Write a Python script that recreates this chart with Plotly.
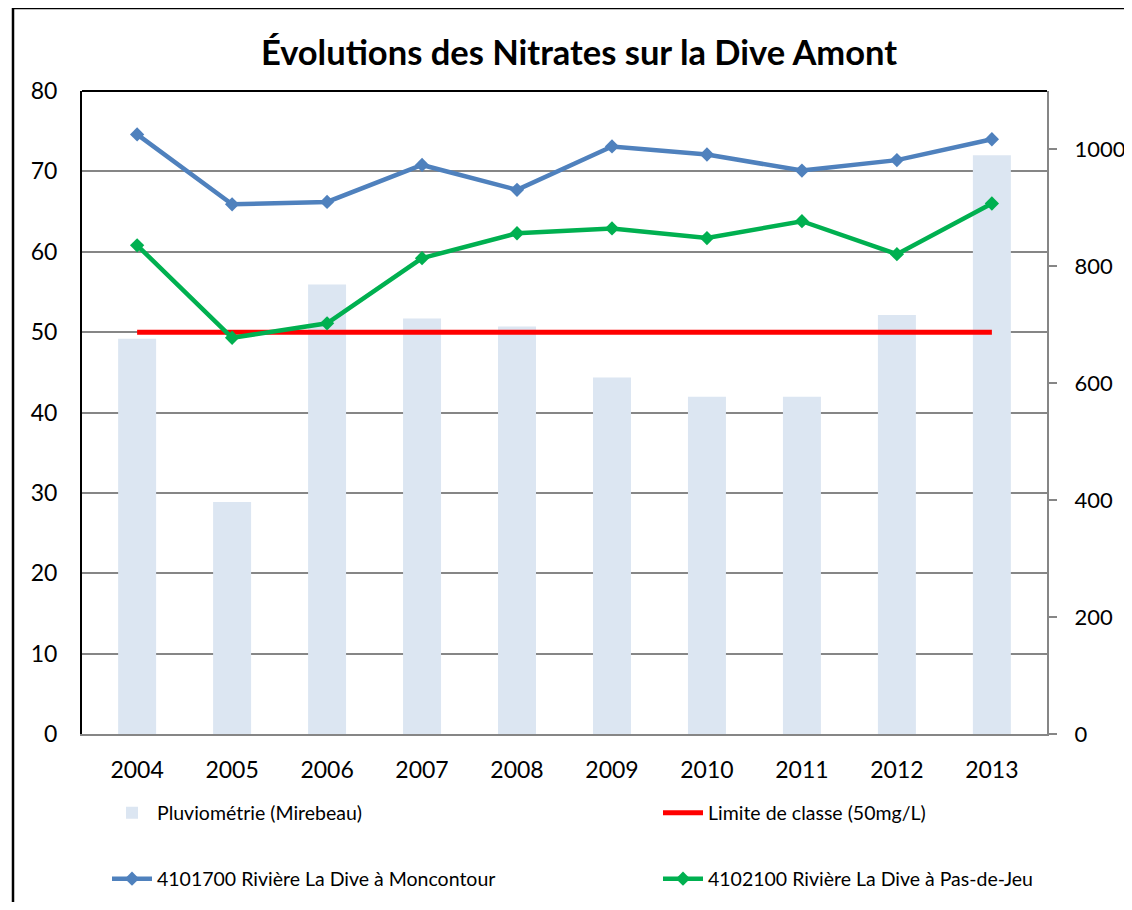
import plotly.graph_objects as go

years = ["2004", "2005", "2006", "2007", "2008", "2009", "2010", "2011", "2012", "2013"]
pluvio = [676, 397, 769, 711, 697, 610, 577, 577, 717, 990]
moncontour = [74.6, 65.9, 66.2, 70.8, 67.7, 73.1, 72.1, 70.1, 71.4, 74.0]
pas_de_jeu = [60.8, 49.3, 51.1, 59.2, 62.3, 62.9, 61.7, 63.8, 59.7, 66.0]
limite = [50] * len(years)

FONT = "Lato"
W, H = 1116, 894  # page body has an 8px margin
OFF = 8
PL, PR, PT, PB = 82, 1047, 91, 734  # plot area in window pixels
PW, PH = PR - PL, PB - PT


def px(x):
    return (x - PL) / PW


def py(y):
    return (PB - y) / PH


fig = go.Figure()
fig.add_trace(go.Bar(x=years, y=pluvio, name="Pluviométrie (Mirebeau)",
                     marker=dict(color="#DCE6F2", line=dict(width=0)),
                     width=0.4, yaxis="y", legend="legend", showlegend=True))
fig.add_trace(go.Scatter(x=years, y=limite, name="Limite de classe (50mg/L)",
                         mode="lines", line=dict(color="#FF0000", width=5),
                         yaxis="y2", legend="legend2"))
fig.add_trace(go.Scatter(x=years, y=moncontour, name="4101700 Rivière La Dive à Moncontour",
                         mode="lines+markers", line=dict(color="#4F81BD", width=4.5),
                         marker=dict(symbol="diamond", size=11, color="#4F81BD"),
                         yaxis="y2", legend="legend3"))
fig.add_trace(go.Scatter(x=years, y=pas_de_jeu, name="4102100 Rivière La Dive à Pas-de-Jeu",
                         mode="lines+markers", line=dict(color="#00B050", width=4.5),
                         marker=dict(symbol="diamond", size=11, color="#00B050"),
                         yaxis="y2", legend="legend4"))

leg_common = dict(font=dict(family=FONT, size=19.5, color="black"), bgcolor="rgba(0,0,0,0)",
                  orientation="v", xanchor="left", yanchor="middle", itemwidth=40, visible=True)

fig.update_layout(
    width=W, height=H,
    showlegend=True,
    margin=dict(l=PL - OFF, r=W - (PR - OFF), t=PT - OFF, b=H - (PB - OFF), autoexpand=False),
    paper_bgcolor="white", plot_bgcolor="white",
    font=dict(family=FONT, color="black"),
    title=dict(text="<b>Évolutions des Nitrates sur la Dive Amont</b>",
               font=dict(family=FONT, size=34.5, color="black"),
               x=px(579), xanchor="center", xref="paper",
               y=1 - (53 - OFF) / H, yanchor="middle", yref="container"),
    xaxis=dict(type="category", showgrid=False, showline=True, linecolor="#868686", linewidth=2,
               ticks="", tickfont=dict(family=FONT, size=23, color="black"),
               ticklabelstandoff=14, automargin=False),
    yaxis=dict(side="right", range=[0, 1100], dtick=200, showgrid=False, zeroline=False,
               showline=True, linecolor="#868686", linewidth=2,
               ticks="outside", ticklen=8, tickcolor="#868686", tickwidth=1.5,
               tickfont=dict(family=FONT, size=22, color="black"), ticklabelstandoff=13,
               automargin=False),
    yaxis2=dict(overlaying="y", side="left", range=[0, 80], dtick=10,
                showgrid=True, gridcolor="#868686", gridwidth=1.5, zeroline=False,
                showline=True, linecolor="black", linewidth=2, ticks="",
                tickfont=dict(family=FONT, size=23, color="black"), ticklabelstandoff=18,
                automargin=False),
    legend=dict(x=px(107), y=py(813), **leg_common),
    legend2=dict(x=px(658), y=py(813), **leg_common),
    legend3=dict(x=px(107), y=py(879), **leg_common),
    legend4=dict(x=px(658), y=py(879), **leg_common),
    shapes=[
        dict(type="line", xref="paper", yref="paper", x0=0, x1=1, y0=1, y1=1,
             line=dict(color="black", width=2)),
        dict(type="line", xref="paper", yref="paper",
             x0=px(13), x1=px(1300), y0=py(8), y1=py(8),
             line=dict(color="black", width=2.5)),
        dict(type="line", xref="paper", yref="paper",
             x0=px(13), x1=px(13), y0=py(8), y1=py(1000),
             line=dict(color="black", width=2.5)),
    ],
)

fig.write_html("out.html")
